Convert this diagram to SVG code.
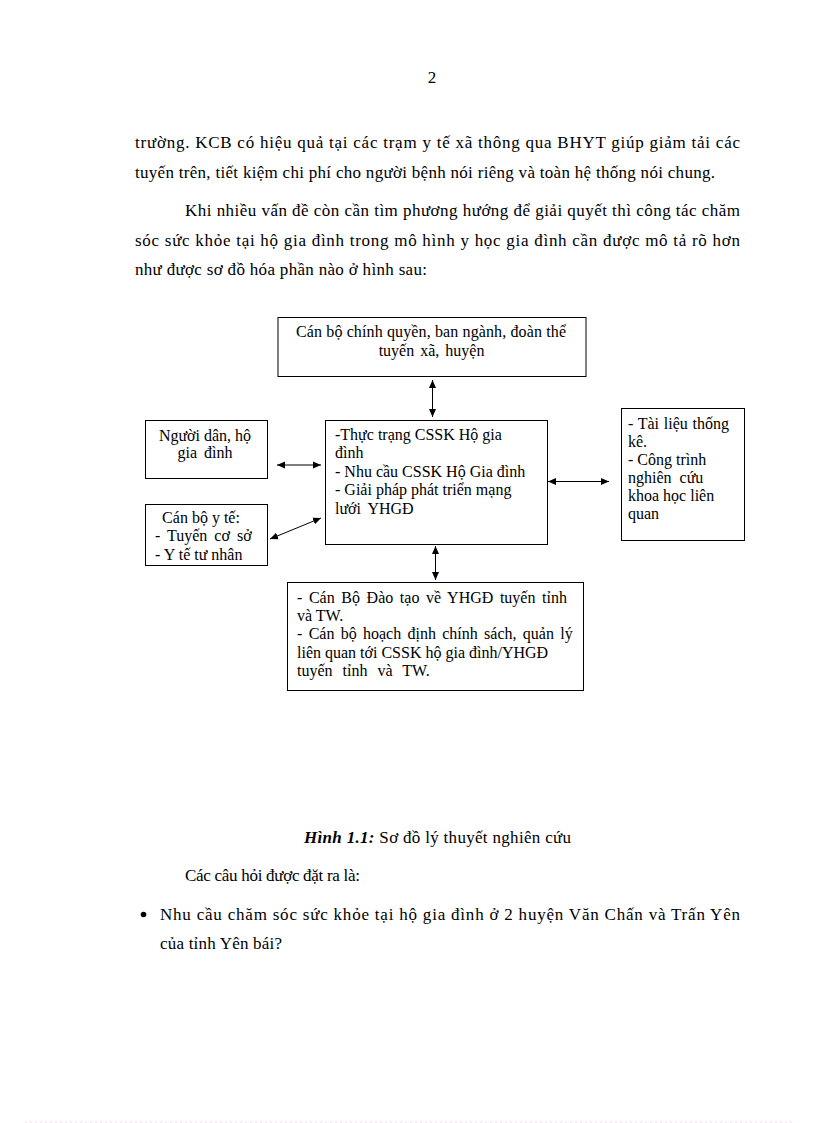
<svg xmlns="http://www.w3.org/2000/svg" width="816" height="1123" viewBox="0 0 816 1123">
<style>
.body{font-family:"Liberation Serif","Times New Roman",serif;font-size:17px;fill:#000}
.dg{font-family:"Liberation Serif","Times New Roman",serif;font-size:16px;fill:#000}
.box{fill:#fff;stroke:#000;stroke-width:1}
.con{stroke:#000;stroke-width:1;fill:none;marker-start:url(#ah);marker-end:url(#ah)}
</style>
<defs>
<marker id="ah" viewBox="0 0 8 8" refX="8" refY="4" markerWidth="8" markerHeight="8" markerUnits="userSpaceOnUse" orient="auto-start-reverse">
<path d="M0,0.5 L8,4 L0,7.5 Z" fill="#000"/>
</marker>
</defs>
<rect width="816" height="1123" fill="#fff"/>

<g id="page-text">
<text class="body" x="432" y="83" text-anchor="middle">2</text>
<text class="body" x="135" y="148" textLength="605" lengthAdjust="spacing">trường. KCB  có hiệu quả tại các trạm y tế xã thông qua BHYT  giúp giảm tải các</text>
<text class="body" x="135" y="178" textLength="580" lengthAdjust="spacing">tuyến trên, tiết kiệm chi phí cho người bệnh nói riêng và toàn hệ thống nói chung.</text>
<text class="body" x="185" y="216" textLength="555" lengthAdjust="spacing">Khi nhiều vấn đề còn cần tìm phương hướng để giải quyết thì công tác chăm</text>
<text class="body" x="135" y="246" textLength="605" lengthAdjust="spacing">sóc sức khỏe tại hộ gia đình trong mô hình y học gia đình cần được mô tả rõ hơn</text>
<text class="body" x="135" y="275" textLength="292" lengthAdjust="spacing">như được sơ đồ hóa phần nào ở hình sau:</text>
</g>

<g id="connectors">
<line class="con" x1="432.5" y1="380" x2="432.5" y2="417"/>
<line class="con" x1="277" y1="465" x2="321" y2="465"/>
<line class="con" x1="270" y1="539" x2="321" y2="518"/>
<line class="con" x1="548" y1="481.5" x2="609" y2="481.5"/>
<line class="con" x1="435.5" y1="546" x2="435.5" y2="580"/>
</g>

<g id="node-top">
<rect class="box" x="278" y="317.5" width="308" height="59"/>
<text class="dg" x="296" y="337" textLength="270" lengthAdjust="spacing">Cán bộ chính  quyền,  ban ngành,  đoàn thể</text>
<text class="dg" x="431.5" y="356" text-anchor="middle" word-spacing="2">tuyến xã, huyện</text>
</g>

<g id="node-nguoidan">
<rect class="box" x="145.5" y="420.5" width="122" height="58"/>
<text class="dg" x="205" y="441" text-anchor="middle">Người dân, hộ</text>
<text class="dg" x="205" y="458" text-anchor="middle" word-spacing="3">gia đình</text>
</g>

<g id="node-canboyte">
<rect class="box" x="145.5" y="504.5" width="122" height="61"/>
<text class="dg" x="201" y="523" text-anchor="middle">Cán bộ y tế:</text>
<text class="dg" x="155" y="541" word-spacing="3">- Tuyến cơ sở</text>
<text class="dg" x="155" y="560">- Y tế tư nhân</text>
</g>

<g id="node-center">
<rect class="box" x="325.5" y="420.5" width="222" height="124"/>
<text class="dg" x="335" y="440">-Thực trạng CSSK Hộ gia</text>
<text class="dg" x="335" y="458">đình</text>
<text class="dg" x="335" y="477">- Nhu cầu CSSK Hộ Gia đình</text>
<text class="dg" x="335" y="495">- Giải pháp phát triển mạng</text>
<text class="dg" x="335" y="514" word-spacing="3">lưới YHGĐ</text>
</g>

<g id="node-right">
<rect class="box" x="621.5" y="408.5" width="123" height="132"/>
<text class="dg" x="628" y="429" word-spacing="0.7">- Tài liệu thống</text>
<text class="dg" x="628" y="447">kê.</text>
<text class="dg" x="628" y="465">- Công trình</text>
<text class="dg" x="628" y="483" word-spacing="4">nghiên cứu</text>
<text class="dg" x="628" y="501">khoa học liên</text>
<text class="dg" x="628" y="519">quan</text>
</g>

<g id="node-bottom">
<rect class="box" x="287.5" y="582.5" width="296" height="108"/>
<text class="dg" x="297" y="603" word-spacing="2.6">- Cán Bộ Đào tạo về YHGĐ tuyến tỉnh</text>
<text class="dg" x="297" y="621">và TW.</text>
<text class="dg" x="297" y="639" word-spacing="2.3">- Cán bộ hoạch định chính sách, quản lý</text>
<text class="dg" x="297" y="658">liên quan tới CSSK hộ gia đình/YHGĐ</text>
<text class="dg" x="297" y="676" word-spacing="6">tuyến tỉnh và TW.</text>
</g>

<g id="caption">
<text class="body" x="304" y="843" textLength="267" lengthAdjust="spacing"><tspan font-weight="bold" font-style="italic">Hình  1.1:</tspan> Sơ đồ lý thuyết nghiên cứu</text>
<text class="body" x="185" y="881" textLength="175" lengthAdjust="spacing">Các câu hỏi được đặt ra là:</text>
<circle cx="143.5" cy="914.5" r="2.8" fill="#000"/>
<text class="body" x="160" y="920" textLength="580" lengthAdjust="spacing">Nhu cầu chăm sóc sức khỏe tại hộ gia đình ở 2 huyện Văn  Chấn và Trấn Yên</text>
<text class="body" x="160" y="949" textLength="122" lengthAdjust="spacing">của tỉnh Yên bái?</text>
</g>

<line x1="25" y1="1122" x2="792" y2="1122" stroke="#f6d6ee" stroke-width="1" stroke-dasharray="2,3"/>
</svg>
